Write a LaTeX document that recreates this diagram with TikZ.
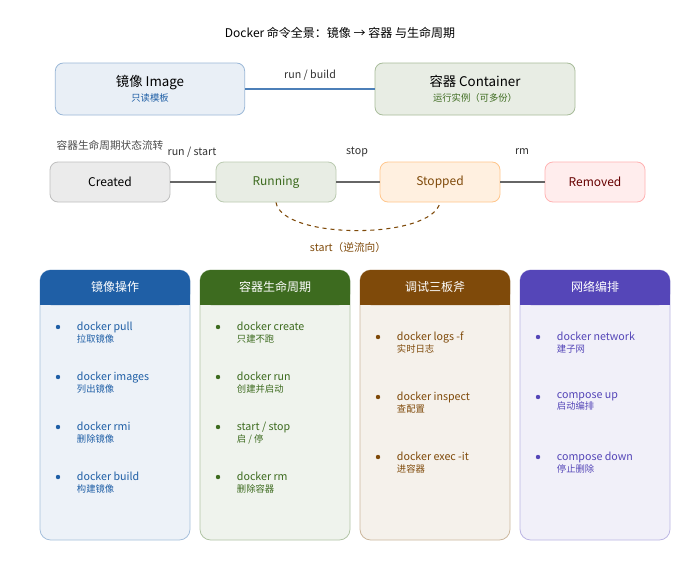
\documentclass[tikz,border=0pt]{standalone}
\usepackage{fontspec}
\setmainfont{Noto Sans CJK SC}
\usetikzlibrary{positioning}
\definecolor{imgblue}{HTML}{1F5FA6}
\definecolor{ctrgreen}{HTML}{3D6B1F}
\definecolor{dbgbrown}{HTML}{7F4A0A}
\definecolor{netpurple}{HTML}{5546B8}
\tikzset{
  box/.style={draw, rounded corners=6pt, line width=0.6pt},
  state/.style={box, minimum width=90pt, minimum height=30pt, font=\small},
  flow/.style={draw=gray!80!black, line width=1.2pt},
  lbl/.style={font=\footnotesize, text=black!80},
  item/.style={anchor=north west, font=\footnotesize, align=left, inner sep=0pt},
}
\newcommand{\opitem}[4]{% x, y, colour, main / sub
  \fill[#3] (#1,#2) circle (2.2);
  \node[item, text=#3] at ([xshift=14]#1,#2-5) {#4};
}
\begin{document}
\begin{tikzpicture}[x=0.75pt, y=-0.75pt]
  \useasboundingbox[fill=white] (0,0) rectangle (680,560);

  \node[font=\small] (title) at (340,33) {Docker 命令全景：镜像 → 容器 与生命周期};

  % image / container
  \node[box, draw=imgblue!45, fill=imgblue!10, minimum width=142pt, minimum height=39pt, align=center] (image) at (150,89)
    {镜像 Image\\[-1pt]{\scriptsize\color{imgblue}只读模板}};
  \node[box, draw=ctrgreen!45, fill=ctrgreen!12, minimum width=150pt, minimum height=39pt, align=center] (container) at (475,89)
    {容器 Container\\[-1pt]{\scriptsize\color{ctrgreen}运行实例（可多份）}};
  \draw[imgblue!80, line width=1pt] (image) -- (container);
  \node[lbl] at (310,75) {run / build};

  % lifecycle
  \node[font=\footnotesize, text=black!70] at (110,145) {容器生命周期状态流转};
  \node[state, draw=black!25, fill=black!8] (created) at (110,182) {Created};
  \node[state, draw=ctrgreen!35, fill=ctrgreen!12, text=ctrgreen] (running) at (276,182) {Running};
  \node[state, draw=orange!45, fill=orange!12, text=dbgbrown] (stopped) at (440,182) {Stopped};
  \node[state, minimum width=75pt, draw=red!30, fill=red!7, text=red!40!black] (removed) at (595,182) {Removed};
  \draw[flow] (created) -- (running);
  \draw[flow] (running) -- (stopped);
  \draw[flow] (stopped) -- (removed);
  \node[lbl] at (192,152) {run / start};
  \node[lbl] at (357,152) {stop};
  \node[lbl] at (522,152) {rm};
  \draw[dbgbrown, dashed, line width=0.8pt] (running.south) .. controls (282,240) and (432,240) .. (stopped.south);
  \node[lbl, text=dbgbrown] at (348,247) {start（逆流向）};

  % columns
  \foreach \x/\c/\t in {40/imgblue/镜像操作, 200/ctrgreen/容器生命周期, 360/dbgbrown/调试三板斧, 520/netpurple/网络编排} {
    \draw[\c!40, fill=\c!8, rounded corners=8pt, line width=0.6pt] (\x,270) rectangle ++(150,270);
    \fill[\c, rounded corners=8pt] (\x,270) rectangle ++(150,35);
    \fill[\c] (\x,295) rectangle ++(150,10);
    \node[text=white, font=\small] at (\x+75,287) {\t};
  }
  \opitem{58}{327}{imgblue}{docker pull\\[-1pt]{\scriptsize 拉取镜像}}
  \opitem{58}{377}{imgblue}{docker images\\[-1pt]{\scriptsize 列出镜像}}
  \opitem{58}{427}{imgblue}{docker rmi\\[-1pt]{\scriptsize 删除镜像}}
  \opitem{58}{477}{imgblue}{docker build\\[-1pt]{\scriptsize 构建镜像}}
  \opitem{218}{327}{ctrgreen}{docker create\\[-1pt]{\scriptsize 只建不跑}}
  \opitem{218}{377}{ctrgreen}{docker run\\[-1pt]{\scriptsize 创建并启动}}
  \opitem{218}{427}{ctrgreen}{start / stop\\[-1pt]{\scriptsize 启 / 停}}
  \opitem{218}{477}{ctrgreen}{docker rm\\[-1pt]{\scriptsize 删除容器}}
  \opitem{378}{337}{dbgbrown}{docker logs -f\\[-1pt]{\scriptsize 实时日志}}
  \opitem{378}{397}{dbgbrown}{docker inspect\\[-1pt]{\scriptsize 查配置}}
  \opitem{378}{457}{dbgbrown}{docker exec -it\\[-1pt]{\scriptsize 进容器}}
  \opitem{538}{337}{netpurple}{docker network\\[-1pt]{\scriptsize 建子网}}
  \opitem{538}{397}{netpurple}{compose up\\[-1pt]{\scriptsize 启动编排}}
  \opitem{538}{457}{netpurple}{compose down\\[-1pt]{\scriptsize 停止删除}}
\end{tikzpicture}
\end{document}
